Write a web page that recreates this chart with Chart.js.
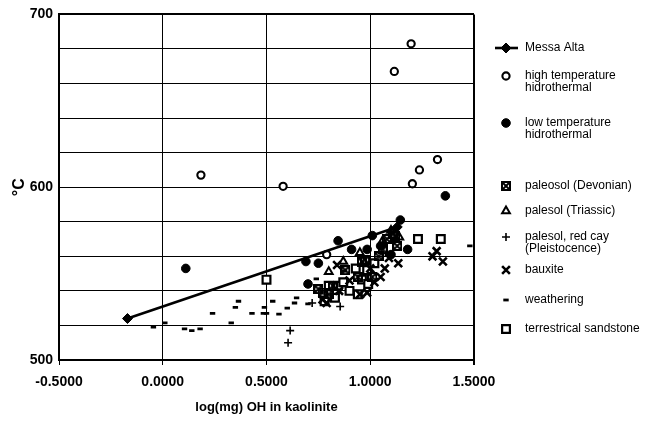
<!DOCTYPE html>
<html>
<head>
<meta charset="utf-8">
<script src="https://cdn.jsdelivr.net/npm/chart.js@4.4.0/dist/chart.umd.min.js"></script>
<style>
  html, body { margin: 0; padding: 0; background: #fff; }
  #grafico { display: block; }
</style>
</head>
<body>
<canvas id="grafico" width="657" height="422"></canvas>
<script>
// ============================
// Dados
// ============================
const xTicks = [-0.5, 0, 0.5, 1.0, 1.5];
const yTicks = [500, 600, 700];

const messaX = [-0.17, 1.13];
const messaY = [524, 577];

const altaTempX = [0.184, 0.58, 0.79, 1.116, 1.197, 1.203, 1.237, 1.324];
const altaTempY = [607, 600.5, 561, 667, 683, 602, 610, 616];

const baixaTempX = [0.111, 0.69, 0.70, 0.75, 0.845, 0.91, 0.985, 1.01, 1.05, 1.10, 1.145, 1.18, 1.362];
const baixaTempY = [553, 557, 544, 556, 569, 564, 564, 572, 566, 561, 581, 564, 595];

const devonianoX = [1.11, 1.08, 1.13, 1.06, 1.12, 0.96, 0.975, 0.77, 0.82, 0.80, 0.94, 1.01, 0.88, 0.75, 1.04];
const devonianoY = [573, 570, 566, 564, 572, 557, 558, 539, 543, 538, 548, 548, 552, 541, 560];

const triassicoX = [1.10, 0.80, 1.06, 0.95, 1.14, 0.87];
const triassicoY = [575, 551, 569, 562, 571, 557];

const pleistocenoX = [0.614, 0.604, 0.855, 0.72];
const pleistocenoY = [517, 510, 531, 533];

const bauxitaX = [1.30, 1.35, 1.32, 1.135, 1.07, 1.05, 0.985, 0.95, 0.79, 0.77, 1.0, 0.90, 0.85, 1.02, 0.84, 1.09];
const bauxitaY = [560, 557, 563, 556, 553, 548, 539, 538, 533, 535, 553, 546, 540, 545, 555, 559];

const intemperismoX = [-0.045, 0.01, 0.105, 0.14, 0.18, 0.24, 0.33, 0.35, 0.365, 0.43, 0.485, 0.49, 0.5, 0.53, 0.56, 0.6, 0.635, 0.645, 0.7, 0.875, 0.74, 1.48];
const intemperismoY = [519, 521.5, 518, 517, 518, 527, 521.5, 530.5, 534, 527, 527, 530.5, 527, 534, 526.5, 530, 533, 536, 532.5, 551.5, 547, 566];

const arenitoX = [0.5, 1.23, 1.34, 0.93, 0.985, 0.96, 0.80, 0.845, 0.78, 0.83, 0.90, 0.94, 0.99, 1.02, 0.87];
const arenitoY = [546.5, 570, 570, 553, 552, 546.6, 543, 543, 534, 536, 540, 538, 544, 556, 545];

const legendas = [
  ['Messa Alta'],
  ['high temperature', 'hidrothermal'],
  ['low temperature', 'hidrothermal'],
  ['paleosol (Devonian)'],
  ['palesol (Triassic)'],
  ['palesol, red cay', '(Pleistocence)'],
  ['bauxite'],
  ['weathering'],
  ['terrestrical sandstone']
];

// ============================
// Marcador quadrado com X (Devoniano)
// ============================
function criarMarcadorX() {
  const c = document.createElement('canvas');
  c.width = 10;
  c.height = 10;
  const g = c.getContext('2d');
  g.strokeStyle = '#000';
  g.lineWidth = 2;
  g.strokeRect(1, 1, 8, 8);
  g.beginPath();
  g.moveTo(1, 1); g.lineTo(9, 9);
  g.moveTo(9, 1); g.lineTo(1, 9);
  g.stroke();
  return c;
}
const marcadorDevoniano = criarMarcadorX();

function pontos(xs, ys) {
  return xs.map((x, i) => ({ x: x, y: ys[i] }));
}

const fonte = "'Liberation Sans', Arial, sans-serif";

const series = [
  { label: 'Messa Alta', data: pontos(messaX, messaY), showLine: true, borderColor: '#000', borderWidth: 2.6,
    pointStyle: 'rectRot', pointRadius: 5, pointBackgroundColor: '#000', pointBorderColor: '#000', pointBorderWidth: 1 },
  { label: 'high', data: pontos(altaTempX, altaTempY), pointStyle: 'circle', pointRadius: 3.6,
    pointBackgroundColor: '#fff', pointBorderColor: '#000', pointBorderWidth: 2.1 },
  { label: 'low', data: pontos(baixaTempX, baixaTempY), pointStyle: 'circle', pointRadius: 4.3,
    pointBackgroundColor: '#000', pointBorderColor: '#000', pointBorderWidth: 1 },
  { label: 'devonian', data: pontos(devonianoX, devonianoY), pointStyle: marcadorDevoniano, pointRadius: 5 },
  { label: 'triassic', data: pontos(triassicoX, triassicoY), pointStyle: 'triangle', pointRadius: 4.5,
    pointBackgroundColor: '#fff', pointBorderColor: '#000', pointBorderWidth: 2 },
  { label: 'pleisto', data: pontos(pleistocenoX, pleistocenoY), pointStyle: 'cross', pointRadius: 4,
    pointBorderColor: '#000', pointBorderWidth: 1.6 },
  { label: 'bauxite', data: pontos(bauxitaX, bauxitaY), pointStyle: 'crossRot', pointRadius: 5.5,
    pointBorderColor: '#000', pointBorderWidth: 2.6 },
  { label: 'weathering', data: pontos(intemperismoX, intemperismoY), pointStyle: 'line', pointRadius: 2.7,
    pointBorderColor: '#000', pointBorderWidth: 2.8 },
  { label: 'sandstone', data: pontos(arenitoX, arenitoY), pointStyle: 'rect', pointRadius: 5.5,
    pointBackgroundColor: '#fff', pointBorderColor: '#000', pointBorderWidth: 2.2 }
];

// ============================
// Legenda desenhada à mão
// ============================
const legendaY = [48, 76, 123, 186, 211, 237, 270, 300, 329];

const pluginLegenda = {
  id: 'legendaLateral',
  afterDraw(chart) {
    const ctx = chart.ctx;
    const xMarca = 506;
    const xTexto = 525;
    ctx.save();
    ctx.font = '12px ' + fonte;
    ctx.textBaseline = 'middle';
    ctx.fillStyle = '#000';
    legendas.forEach((linhas, i) => {
      const y = legendaY[i];
      const ds = series[i];
      if (i === 0) {
        ctx.strokeStyle = '#000';
        ctx.lineWidth = 2.6;
        ctx.beginPath();
        ctx.moveTo(495, y);
        ctx.lineTo(518, y);
        ctx.stroke();
      }
      ctx.fillStyle = ds.pointBackgroundColor || '#000';
      ctx.strokeStyle = ds.pointBorderColor || '#000';
      ctx.lineWidth = ds.pointBorderWidth || 1;
      Chart.helpers.drawPoint(ctx, {
        pointStyle: ds.pointStyle,
        radius: ds.pointRadius,
        rotation: 0,
        borderWidth: ds.pointBorderWidth || 1
      }, xMarca, y);
      ctx.fillStyle = '#000';
      linhas.forEach((t, j) => ctx.fillText(t, xTexto, y + j * 11.5));
    });
    ctx.restore();
  }
};

const ctxGrafico = document.getElementById('grafico').getContext('2d');
const grafico = new Chart(ctxGrafico, {
  type: 'scatter',
  data: { datasets: series },
  plugins: [pluginLegenda],
  options: {
    responsive: false,
    animation: false,
    events: [],
    layout: { padding: { top: 8, right: 183, left: 0, bottom: 0 } },
    plugins: {
      legend: { display: false },
      tooltip: { enabled: false }
    },
    scales: {
      x: {
        type: 'linear',
        min: -0.5,
        max: 1.5,
        afterBuildTicks: s => { s.ticks = xTicks.map(v => ({ value: v })); },
        afterFit: s => { s.height = 62; },
        ticks: {
          color: '#000',
          padding: 9,
          font: { family: fonte, size: 14, weight: 'bold' },
          callback: v => Number(v).toFixed(4)
        },
        grid: {
          color: '#000',
          lineWidth: c => (c.tick && c.tick.value === 1.5 ? 2 : 1),
          tickLength: 5,
          tickColor: '#000'
        },
        border: { color: '#000', width: 2 },
        title: {
          display: true,
          text: 'log(mg) OH in kaolinite',
          color: '#000',
          font: { family: fonte, size: 13, weight: 'bold' },
          padding: { top: 0, bottom: 7 }
        }
      },
      y: {
        type: 'linear',
        min: 500,
        max: 700,
        afterFit: s => { s.width = 59; },
        ticks: {
          color: '#000',
          padding: 6,
          stepSize: 20,
          font: { family: fonte, size: 14, weight: 'bold' },
          callback: v => (yTicks.includes(v) ? v : '')
        },
        grid: {
          color: '#000',
          lineWidth: c => (c.tick && c.tick.value === 700 ? 2 : 1),
          drawTicks: false
        },
        border: { color: '#000', width: 2 },
        title: {
          display: true,
          text: '°C',
          color: '#000',
          font: { family: fonte, size: 16, weight: 'bold' },
          padding: { top: 10, bottom: 0 }
        }
      }
    }
  }
});
</script>
</body>
</html>
